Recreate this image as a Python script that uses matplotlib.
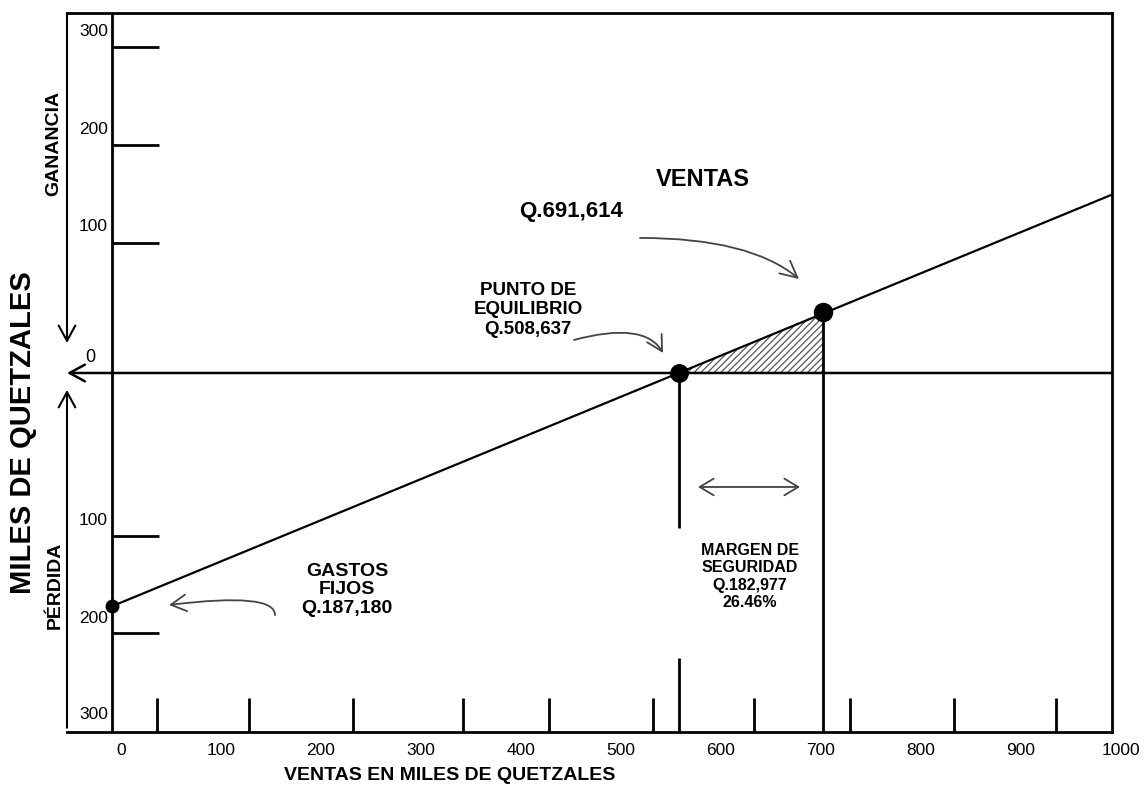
import matplotlib.pyplot as plt
from matplotlib.patches import Polygon

plt.rcParams['font.family'] = ['Liberation Sans', 'DejaVu Sans']
plt.rcParams['hatch.color'] = '#555555'
plt.rcParams['hatch.linewidth'] = 0.9

# Etiquetas de los ejes (miles de quetzales)
x_etiquetas = [0, 100, 200, 300, 400, 500, 600, 700, 800, 900, 1000]
y_etiquetas = [100, 200, 300]

# Posiciones de las marcas en el diagrama (no esta a escala)
x_marcas = [36, 128, 232, 342, 428, 532, 633, 729, 833, 935]
ganancia_marcas = [133, 233, 333]
perdida_marcas = [-166, -265]
ganancia_pos_etq = [149, 248, 348]
perdida_pos_etq = [-150, -250, -348]

# Puntos del diagrama
gastos_fijos = (-9, -238)
equilibrio = (558, 0)
ventas = (702, 62)
linea_x = [-9, 991]
linea_y = [-238, 182]

x_min, x_max = -54, 991
y_min, y_max = -366.3, 367.3

fig = plt.figure(figsize=(11.44, 7.89), dpi=100)
ax = fig.add_axes([67 / 1144, 57 / 789, 1045 / 1144, 719 / 789])
ax.set_xlim(x_min, x_max)
ax.set_ylim(y_min, y_max)
ax.set_xticks([])
ax.set_yticks([])
ax.spines['left'].set_visible(False)
for s in ['top', 'right', 'bottom']:
    ax.spines[s].set_linewidth(2)

# eje vertical y marcas
ax.plot([gastos_fijos[0], gastos_fijos[0]], [y_min, y_max], color='k', lw=2)
ax.hlines(ganancia_marcas + perdida_marcas, gastos_fijos[0], 38, color='k', lw=2)
ax.vlines(x_marcas, y_min, -331.6, color='k', lw=2)

for v, p in zip(y_etiquetas, ganancia_pos_etq):
    ax.text(-13, p, str(v), ha='right', va='center', fontsize=12.5)
for v, p in zip(y_etiquetas, perdida_pos_etq):
    ax.text(-13, p, str(v), ha='right', va='center', fontsize=12.5)
for v in x_etiquetas:
    ax.text(v, -384.7, str(v), ha='center', va='center', fontsize=12.5, clip_on=False)

# flechas del lado izquierdo y linea de cero
flecha = dict(arrowstyle='->,head_length=0.55,head_width=0.3', color='k', lw=1.5,
              shrinkA=0, shrinkB=0, mutation_scale=20)
ax.annotate('', xy=(x_min, 30.6), xytext=(x_min, y_max), arrowprops=flecha, annotation_clip=False)
ax.annotate('', xy=(x_min, -17.3), xytext=(x_min, -362), arrowprops=flecha, annotation_clip=False)
ax.annotate('', xy=(x_min, 0), xytext=(x_max, 0),
            arrowprops=dict(flecha, lw=1.8), annotation_clip=False)
ax.text(-31, 15.3, '0', ha='center', va='center', fontsize=13)

# area de margen de seguridad
tri = Polygon([equilibrio, (ventas[0], 0), ventas], closed=True, facecolor='white',
              edgecolor='#555555', hatch='/////', lw=0, zorder=1)
ax.add_patch(tri)

# lineas verticales
ax.vlines(ventas[0], y_min, ventas[1], color='k', lw=2, zorder=2)
ax.vlines(equilibrio[0], -158, equilibrio[1], color='k', lw=2, zorder=2)
ax.vlines(equilibrio[0], y_min, -291, color='k', lw=2, zorder=2)

# linea de ventas y puntos
ax.plot(linea_x, linea_y, color='k', lw=1.6, zorder=3)
ax.plot(*gastos_fijos, 'o', ms=9, color='k', zorder=4, clip_on=False)
ax.plot(*equilibrio, 'o', ms=12.5, color='k', zorder=4)
ax.plot(*ventas, 'o', ms=13, color='k', zorder=4)

# textos
ax.text(582, 197, 'VENTAS', ha='center', va='center', fontsize=17, fontweight='bold')
ax.text(450, 165, 'Q.691,614', ha='center', va='center', fontsize=16, fontweight='bold')
ax.text(407, 64.3, 'PUNTO DE\nEQUILIBRIO\nQ.508,637', ha='center', va='center',
        fontsize=13.5, fontweight='bold', linespacing=1.2)
ax.text(226, -221.4, 'GASTOS\nFIJOS\nQ.187,180', ha='center', va='center',
        fontsize=14, fontweight='bold', linespacing=1.15)
ax.text(629, -207.6, 'MARGEN DE\nSEGURIDAD\nQ.182,977\n26.46%', ha='center', va='center',
        fontsize=11.5, fontweight='bold', linespacing=1.2)

# flechas curvas
gris = dict(color='#444444', lw=1.3, shrinkA=0, shrinkB=0, mutation_scale=20)
ax.annotate('', xy=(678, 95.9), xytext=(519, 137.8),
            arrowprops=dict(gris, arrowstyle='->,head_length=0.6,head_width=0.3',
                            connectionstyle='angle3,angleA=0,angleB=140'))
ax.annotate('', xy=(542, 20.4), xytext=(453, 33.7),
            arrowprops=dict(gris, arrowstyle='->,head_length=0.55,head_width=0.3',
                            connectionstyle='angle3,angleA=15,angleB=120'))
ax.annotate('', xy=(48, -236.7), xytext=(154, -247),
            arrowprops=dict(gris, arrowstyle='->,head_length=0.55,head_width=0.3',
                            connectionstyle='angle3,angleA=90,angleB=7'))
ax.annotate('', xy=(679, -116.3), xytext=(577, -116.3),
            arrowprops=dict(gris, arrowstyle='<->,head_length=0.5,head_width=0.3'))

# titulos de ejes
ax.text(329, -411, 'VENTAS EN MILES DE QUETZALES', ha='center', va='center',
        fontsize=14, fontweight='bold', clip_on=False)
ax.text(-98, -61, 'MILES DE QUETZALES', rotation=90, ha='center', va='center',
        fontsize=21, fontweight='bold', clip_on=False)
ax.text(-67, 234.7, 'GANANCIA', rotation=90, ha='center', va='center',
        fontsize=14, fontweight='bold', clip_on=False)
ax.text(-66, -216.3, 'PÉRDIDA', rotation=90, ha='center', va='center',
        fontsize=14, fontweight='bold', clip_on=False)

fig.savefig('out.png', dpi=100)
